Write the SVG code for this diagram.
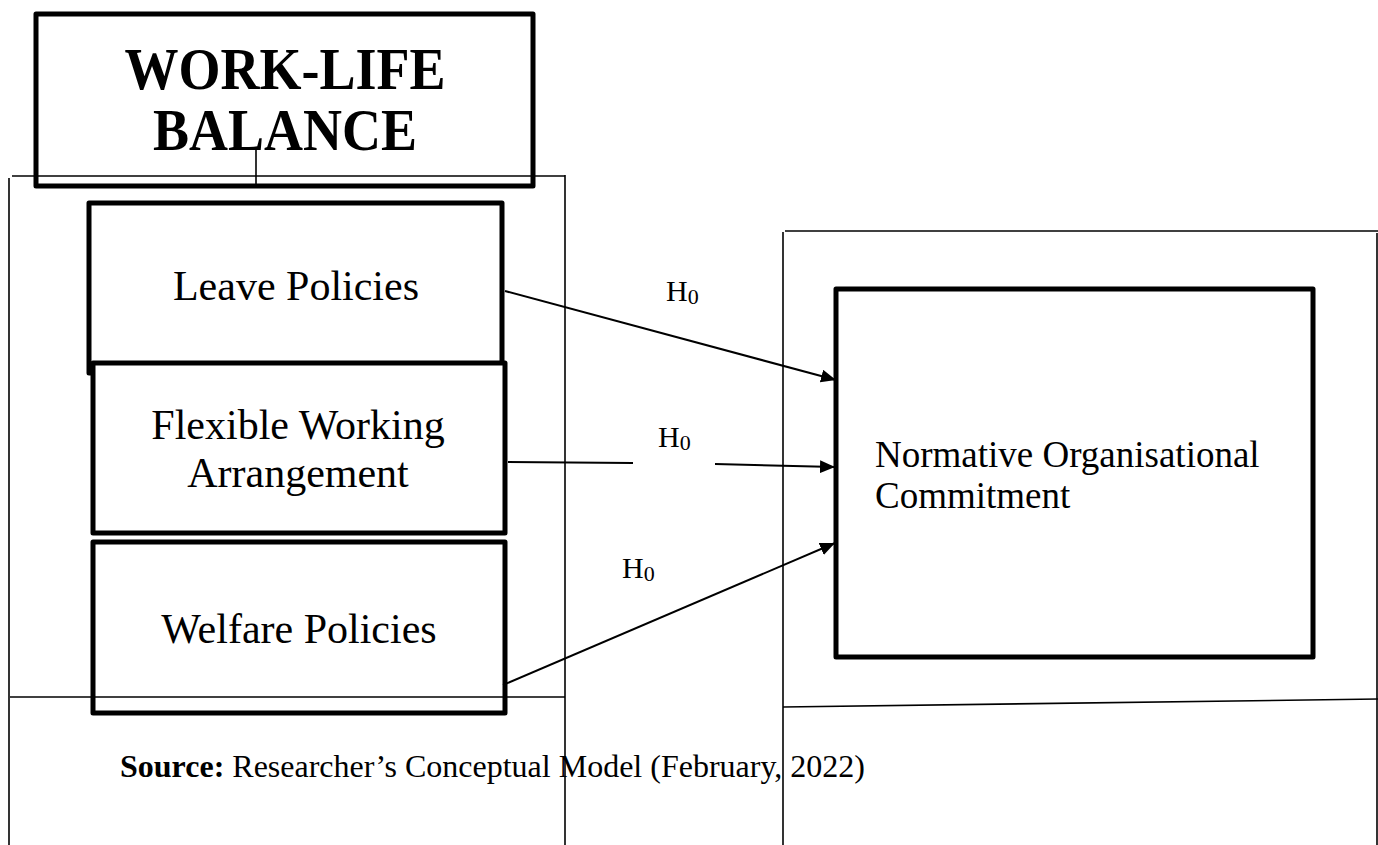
<svg xmlns="http://www.w3.org/2000/svg" width="1378" height="845" viewBox="0 0 1378 845">
  <style>
    .frame { fill: none; stroke: #000; stroke-width: 1.6; }
    .box { fill: none; stroke: #000; stroke-width: 5; stroke-linejoin: round; }
    .box-fill { fill: #fff; stroke: #000; stroke-width: 5; stroke-linejoin: round; }
    .edge { fill: none; stroke: #000; stroke-width: 2; }
    .title { font-family: "Liberation Serif", "Times New Roman", serif; font-weight: bold; font-size: 54px; fill: #000; text-anchor: middle; }
    .label { font-family: "Liberation Serif", "Times New Roman", serif; font-size: 42px; fill: #000; text-anchor: middle; }
    .target { font-family: "Liberation Serif", "Times New Roman", serif; font-size: 37px; fill: #000; }
    .hyp { font-family: "Liberation Serif", "Times New Roman", serif; font-size: 30px; fill: #000; }
    .sub { font-size: 22px; }
    .source { font-family: "Liberation Serif", "Times New Roman", serif; font-size: 32px; fill: #000; }
  </style>
  <defs>
    <marker id="arrow" markerUnits="userSpaceOnUse" markerWidth="15" markerHeight="13" refX="15" refY="6.5" orient="auto">
      <path d="M0,0 L15,6.5 L0,13 z" fill="#000"/>
    </marker>
  </defs>

  <rect width="1378" height="845" fill="#fff"/>

  <!-- thin frames around the two sides -->
  <g id="frames">
    <line class="frame" x1="12" y1="176" x2="565" y2="176"/>
    <line class="frame" x1="9" y1="178" x2="9" y2="845"/>
    <line class="frame" x1="565" y1="175" x2="565" y2="845"/>
    <line class="frame" x1="10" y1="697" x2="565" y2="697"/>
    <line class="frame" x1="785" y1="231" x2="1378" y2="231"/>
    <line class="frame" x1="783" y1="232" x2="783" y2="845"/>
    <line class="frame" x1="1377" y1="233" x2="1377" y2="845"/>
    <line class="frame" x1="783" y1="707" x2="1378" y2="699"/>
  </g>

  <g id="work-life-balance">
    <rect class="box" x="36" y="14" width="497" height="172"/>
    <text class="title" transform="translate(285,89) scale(1,1.08)">WORK-LIFE</text>
    <text class="title" transform="translate(285,150) scale(1,1.08)">BALANCE</text>
    <line class="frame" x1="256" y1="150" x2="256" y2="186"/>
  </g>

  <g id="leave-policies">
    <rect class="box" x="89" y="203" width="413" height="170"/>
    <text class="label" x="296" y="300">Leave Policies</text>
  </g>

  <g id="flexible-working">
    <rect class="box-fill" x="93" y="363" width="412" height="170"/>
    <text class="label" x="298" y="439">Flexible Working</text>
    <text class="label" x="298" y="487">Arrangement</text>
  </g>

  <g id="welfare-policies">
    <rect class="box" x="93" y="542" width="412" height="171"/>
    <text class="label" x="299" y="643">Welfare Policies</text>
  </g>

  <g id="normative-commitment">
    <rect class="box" x="836" y="289" width="477" height="368"/>
    <text class="target" x="875" y="467">Normative Organisational</text>
    <text class="target" x="875" y="508">Commitment</text>
  </g>

  <g id="connectors">
    <line class="edge" x1="505" y1="291" x2="836" y2="380" marker-end="url(#arrow)"/>
    <path class="edge" d="M508,462 L633,463 M715,464 L835,467" marker-end="url(#arrow)"/>
    <line class="edge" x1="503" y1="685" x2="835" y2="543" marker-end="url(#arrow)"/>
  </g>

  <g id="hypothesis-labels">
    <text class="hyp" x="666" y="301">H<tspan class="sub" dy="3">0</tspan></text>
    <text class="hyp" x="658" y="447">H<tspan class="sub" dy="3">0</tspan></text>
    <text class="hyp" x="622" y="578">H<tspan class="sub" dy="3">0</tspan></text>
  </g>

  <g id="source-note">
    <text class="source" x="120" y="777"><tspan font-weight="bold">Source:</tspan> Researcher’s Conceptual Model (February, 2022)</text>
  </g>
</svg>
